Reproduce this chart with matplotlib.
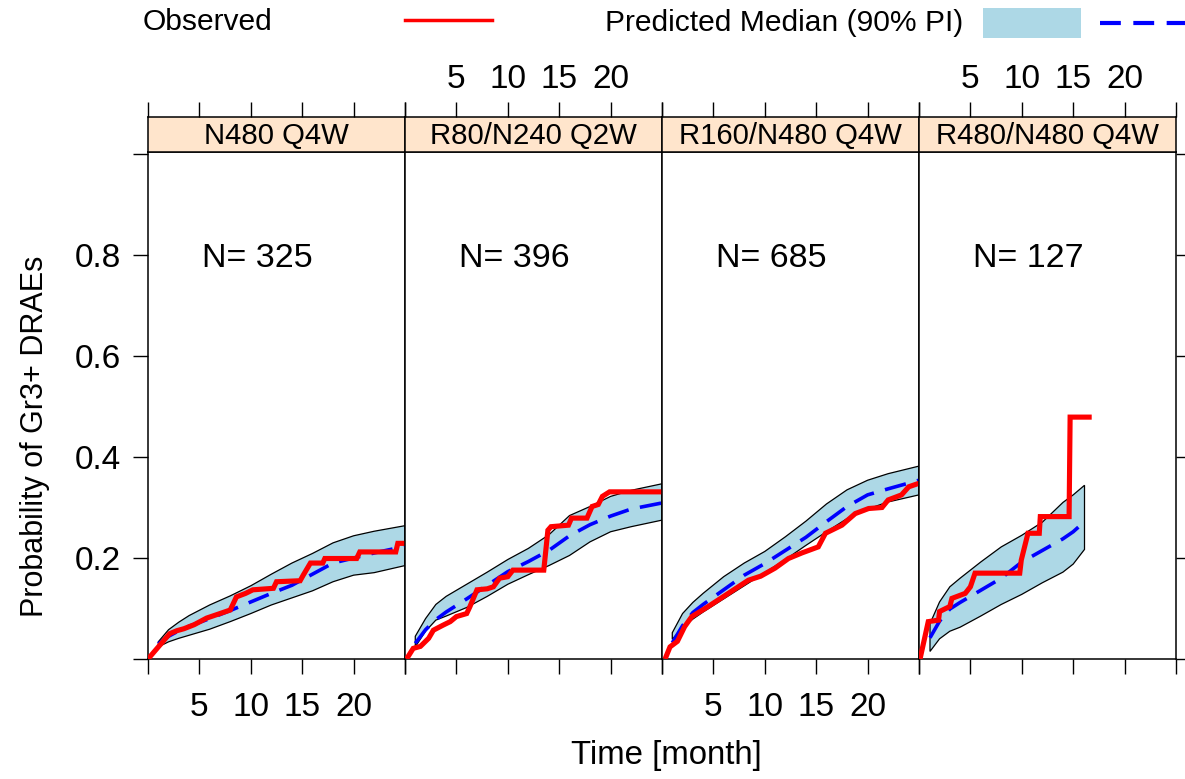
import numpy as np
import matplotlib
matplotlib.use("Agg")
import matplotlib.pyplot as plt
from matplotlib.lines import Line2D
from matplotlib.patches import Rectangle

plt.rcParams["font.family"] = ["Liberation Sans", "DejaVu Sans"]

# ---- data -------------------------------------------------------------
panels = ["N480 Q4W", "R80/N240 Q2W", "R160/N480 Q4W", "R480/N480 Q4W"]
n_subjects = [325, 396, 685, 127]

# predicted 90% interval and median (time in months)
pred_time = [
    [1, 2, 3, 4, 6, 8, 10, 12, 14, 16, 18, 20, 22, 25],
    [1, 2, 3, 4, 6, 8, 10, 12, 14, 16, 18, 20, 22, 25],
    [1, 2, 3, 4, 6, 8, 10, 12, 14, 16, 18, 20, 22, 25],
    [1.07, 2, 3, 4, 6, 8, 10, 12, 14, 15, 16.1],
]
pred_lo = [
    [0.024, 0.034, 0.041, 0.047, 0.059, 0.074, 0.090, 0.107, 0.121, 0.135, 0.153, 0.166, 0.171, 0.185],
    [0.024, 0.055, 0.077, 0.085, 0.102, 0.124, 0.148, 0.167, 0.185, 0.205, 0.232, 0.252, 0.262, 0.275],
    [0.039, 0.062, 0.079, 0.093, 0.119, 0.145, 0.171, 0.197, 0.225, 0.252, 0.278, 0.297, 0.311, 0.325],
    [0.015, 0.040, 0.055, 0.063, 0.085, 0.108, 0.128, 0.151, 0.172, 0.188, 0.217],
]
pred_med = [
    [0.030, 0.045, 0.056, 0.065, 0.080, 0.096, 0.113, 0.130, 0.146, 0.168, 0.190, 0.200, 0.210, 0.223],
    [0.031, 0.058, 0.078, 0.093, 0.119, 0.146, 0.173, 0.193, 0.215, 0.244, 0.266, 0.283, 0.297, 0.309],
    [0.032, 0.066, 0.092, 0.108, 0.137, 0.166, 0.189, 0.215, 0.241, 0.272, 0.302, 0.325, 0.337, 0.354],
    [0.042, 0.075, 0.099, 0.112, 0.136, 0.160, 0.192, 0.215, 0.238, 0.252, 0.272],
]
pred_hi = [
    [0.034, 0.058, 0.073, 0.086, 0.107, 0.125, 0.145, 0.168, 0.190, 0.209, 0.230, 0.244, 0.253, 0.264],
    [0.045, 0.080, 0.108, 0.124, 0.148, 0.172, 0.197, 0.219, 0.246, 0.284, 0.302, 0.322, 0.334, 0.347],
    [0.052, 0.090, 0.112, 0.130, 0.163, 0.190, 0.213, 0.242, 0.273, 0.307, 0.335, 0.354, 0.367, 0.382],
    [0.070, 0.113, 0.143, 0.160, 0.192, 0.222, 0.245, 0.271, 0.310, 0.325, 0.344],
]

# observed Kaplan-Meier cumulative incidence
obs_time = [
    [0, 2.1, 2.8, 3.5, 4.5, 5.7, 7.0, 8.0, 8.6, 9.5, 10.2, 12.2, 12.5, 14.8, 15.1,
     15.8, 17.0, 17.2, 20.3, 20.6, 24.1, 24.3, 25],
    [0.15, 0.8, 1.5, 2.3, 2.76, 3.7, 4.4, 5.0, 6.0, 6.3, 7.0, 8.0, 8.6, 9.2, 10.0,
     10.5, 13.5, 13.9, 14.2, 15.9, 16.2, 17.7, 18.2, 18.8, 19.2, 19.9, 25],
    [0.3, 0.78, 1.5, 2.2, 2.9, 4.5, 6.45, 8.4, 9.6, 11.0, 12.3, 13.6, 15.2, 15.9,
     17.5, 18.8, 20.1, 21.4, 22.0, 23.3, 24.0, 25],
    [0.1, 0.9, 1.9, 2.0, 3.0, 3.2, 4.5, 5.0, 5.45, 9.8, 9.95, 10.6, 11.7, 11.8,
     14.6, 14.7, 16.8],
]
obs_prob = [
    [0, 0.050, 0.056, 0.060, 0.068, 0.081, 0.090, 0.097, 0.123, 0.130, 0.137, 0.140,
     0.153, 0.155, 0.166, 0.190, 0.190, 0.199, 0.199, 0.212, 0.212, 0.229, 0.229],
    [0, 0.021, 0.025, 0.041, 0.057, 0.067, 0.074, 0.084, 0.090, 0.103, 0.137, 0.139,
     0.143, 0.160, 0.163, 0.176, 0.176, 0.255, 0.262, 0.265, 0.279, 0.279, 0.302,
     0.306, 0.322, 0.331, 0.331],
    [0, 0.024, 0.035, 0.064, 0.084, 0.104, 0.130, 0.156, 0.164, 0.180, 0.199, 0.210,
     0.222, 0.249, 0.265, 0.288, 0.298, 0.300, 0.315, 0.325, 0.341, 0.348],
    [0, 0.074, 0.077, 0.094, 0.104, 0.120, 0.130, 0.143, 0.170, 0.170, 0.196, 0.249,
     0.249, 0.282, 0.282, 0.479, 0.479],
]

x_ticks = [0, 5, 10, 15, 20, 25]
x_labels = ["", "5", "10", "15", "20", ""]
y_ticks = [0, 0.2, 0.4, 0.6, 0.8, 1.0]
y_labels = ["", "0.2", "0.4", "0.6", "0.8", ""]

# ---- layout (pixel geometry of a 1185x779 canvas) ----------------------
W, H = 1185, 779
fig = plt.figure(figsize=(W / 100, H / 100), dpi=100)


def fx(px):
    return px / W


def fy(py):
    return 1 - py / H


panel_left = [148, 405, 662, 919]
panel_w = 257
panel_top, panel_bottom = 152, 659
strip_top = 117

TICK_LEN = 10.8
TICK_W = 1.0
SPINE_W = 1.1
FS_TICK = 24
FS_N = 24.5
FS_STRIP = 21.2

band_color = "#ADD8E6"
strip_color = "#FFE5CC"

for i, left in enumerate(panel_left):
    ax = fig.add_axes([fx(left), fy(panel_bottom), panel_w / W,
                       (panel_bottom - panel_top) / H])
    ax.set_xlim(0, 25)
    ax.set_ylim(0, 1.004)
    for s in ax.spines.values():
        s.set_linewidth(SPINE_W)

    t = np.asarray(pred_time[i])
    lo = np.asarray(pred_lo[i])
    hi = np.asarray(pred_hi[i])
    ax.fill(np.r_[t, t[::-1]], np.r_[hi, lo[::-1]], facecolor=band_color,
            edgecolor="black", linewidth=0.9, zorder=2)
    ax.plot(t, pred_med[i], color="#0000FF", lw=2.6,
            linestyle=(0, (6, 3.2)), zorder=3)
    ax.plot(obs_time[i], obs_prob[i], color="#FF0000", lw=3.7,
            solid_joinstyle="miter", solid_capstyle="butt", zorder=4)

    ax.text(10.65, 0.776, f"N= {n_subjects[i]}", ha="center", va="baseline",
            fontsize=FS_N)

    # bottom axis: labels on alternating panels
    ax.set_xticks(x_ticks)
    ax.set_xticklabels(x_labels if i in (0, 2) else [""] * len(x_ticks))
    ax.tick_params(axis="x", direction="out", length=TICK_LEN, width=TICK_W,
                   labelsize=FS_TICK, pad=13, top=False)

    # vertical axis: left on the first panel, right on the last one
    if i == 0:
        ax.set_yticks(y_ticks)
        ax.set_yticklabels(y_labels)
        ax.tick_params(axis="y", direction="out", length=TICK_LEN,
                       width=TICK_W, labelsize=FS_TICK, pad=9, right=False)
    elif i == 3:
        ax.set_yticks(y_ticks)
        ax.yaxis.tick_right()
        ax.tick_params(axis="y", direction="out", length=TICK_LEN,
                       width=TICK_W, labelright=False, left=False)
    else:
        ax.set_yticks([])

    # strip header with the top axis ticks
    sax = fig.add_axes([fx(left), fy(panel_top), panel_w / W,
                        (panel_top - strip_top) / H])
    sax.set_facecolor(strip_color)
    sax.set_xlim(0, 25)
    sax.set_ylim(0, 1)
    sax.set_yticks([])
    for s in sax.spines.values():
        s.set_linewidth(SPINE_W)
    sax.xaxis.tick_top()
    sax.set_xticks(x_ticks)
    sax.set_xticklabels(x_labels if i in (1, 3) else [""] * len(x_ticks))
    sax.tick_params(axis="x", direction="out", length=TICK_LEN, width=TICK_W,
                    labelsize=FS_TICK, pad=5, bottom=False)
    sax.text(0.5, 0.47, panels[i], transform=sax.transAxes, ha="center",
             va="center", fontsize=FS_STRIP)

# axis titles
fig.text(fx(666), fy(764), "Time [month]", ha="center", va="baseline",
         fontsize=23.8)
fig.text(fx(35), fy(436), "Probability of Gr3+ DRAEs", ha="center",
         va="center", rotation=90, fontsize=22)

# key above the panels
FS_KEY = 21.6
fig.text(fx(143), fy(30), "Observed", ha="left", va="baseline", fontsize=FS_KEY)
fig.add_artist(Line2D([fx(405), fx(492)], [fy(20), fy(20)], color="#FF0000",
                      lw=2.5, transform=fig.transFigure))
fig.text(fx(605), fy(31), "Predicted Median (90% PI)", ha="left",
         va="baseline", fontsize=FS_KEY)
fig.add_artist(Rectangle((fx(983), fy(38)), 98 / W, 30 / H,
                         facecolor=band_color, edgecolor="none",
                         transform=fig.transFigure))
fig.add_artist(Line2D([fx(1100), fx(1190)], [fy(23), fy(23)], color="#0000FF",
                      lw=3.0, linestyle=(0, (5, 3)),
                      transform=fig.transFigure))

fig.savefig("out.png", dpi=100)
